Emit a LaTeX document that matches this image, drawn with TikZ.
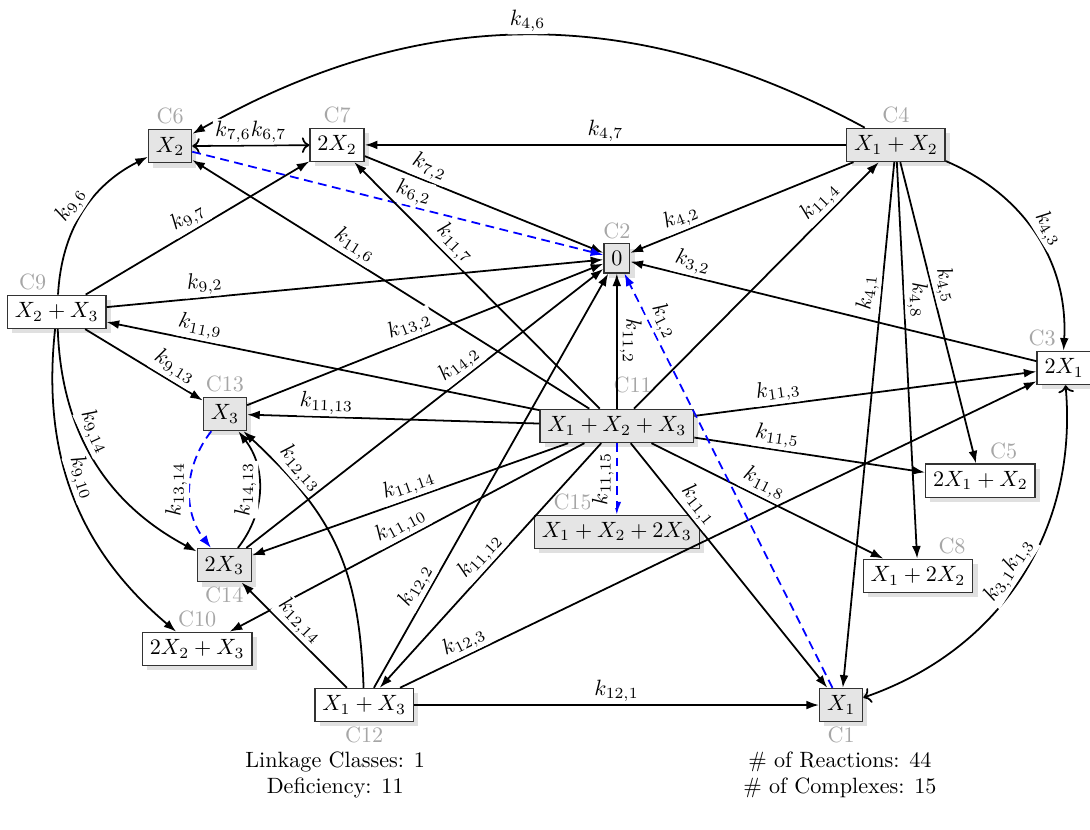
\documentclass[tikz,border=0pt]{standalone}
\usepackage{amsmath}
\usetikzlibrary{shadows,arrows.meta}

\begin{document}
\begin{tikzpicture}[
	cplx/.style={draw=black!80, semithick, fill=white, drop shadow={fill=black!12, opacity=1}},
	cplxg/.style={cplx, fill=black!10},
	clbl/.style={text=black!35},
	label distance=-1.5pt,
	rxn/.style={thick, -{Latex[length=2mm, width=1.4mm]}},
	dashrxn/.style={rxn, blue, dash pattern=on 4pt off 2.5pt},
	rrev/.style={thick, <->},
	lbl/.style={sloped, above, fill=white, inner sep=1pt, text=black}]
	\useasboundingbox (0,0) rectangle (17.30,-13.17);
	% complexes
	\node[cplxg, label={[clbl]above:C6}] (c6) at (2.70,-2.32) {$X_2$};
	\node[cplx, label={[clbl]above:C7}] (c7) at (5.35,-2.30) {$2X_2$};
	\node[cplxg, label={[clbl]above:C4}] (c4) at (14.22,-2.30) {$X_1+X_2$};
	\node[cplxg, label={[clbl]above:C2}] (c2) at (9.79,-4.10) {$0$};
	\node[cplx, label={[clbl, xshift=-0.38cm]above:C9}] (c9) at (0.90,-4.95) {$X_2+X_3$};
	\node[cplx, label={[clbl, xshift=-0.35cm]above:C3}] (c3) at (16.89,-5.84) {$2X_1$};
	\node[cplxg, label={[clbl]above:C13}] (c13) at (3.57,-6.57) {$X_3$};
	\node[cplxg, label={[clbl, xshift=0.25cm, yshift=0.18cm]above:C11}] (c11) at (9.79,-6.76) {$X_1+X_2+X_3$};
	\node[cplx, label={[clbl, xshift=0.37cm]above:C5}] (c5) at (15.56,-7.63) {$2X_1+X_2$};
	\node[cplxg, label={[clbl, xshift=-0.7cm]above:C15}] (c15) at (9.79,-8.44) {$X_1+X_2+2X_3$};
	\node[cplxg, label={[clbl]below:C14}] (c14) at (3.56,-8.97) {$2X_3$};
	\node[cplx, label={[clbl, xshift=0.54cm]above:C8}] (c8) at (14.57,-9.14) {$X_1+2X_2$};
	\node[cplx, label={[clbl]above:C10}] (c10) at (3.13,-10.30) {$2X_2+X_3$};
	\node[cplx, label={[clbl]below:C12}] (c12) at (5.78,-11.19) {$X_1+X_3$};
	\node[cplxg, label={[clbl]below:C1}] (c1) at (13.35,-11.19) {$X_1$};
	% reactions
	\draw[rxn] (c4) to[bend right=29] node[lbl]{$k_{4,6}$} (c6);
	\draw[rxn] (c4) -- node[lbl]{$k_{4,7}$} (c7);
	\draw[rxn] (c4) -- node[lbl, pos=.75]{$k_{4,2}$} (c2);
	\draw[rxn] (c4) to[bend left=35] node[lbl]{$k_{4,3}$} (c3);
	\draw[rxn] (c4) -- node[lbl, pos=.25]{$k_{4,1}$} (c1);
	\draw[rxn] (c4) -- node[lbl, pos=.35]{$k_{4,8}$} (c8);
	\draw[rxn] (c4) -- node[lbl, pos=.42]{$k_{4,5}$} (c5);
	\draw[rrev] (c6) -- node[lbl]{$k_{7,6}k_{6,7}$} (c7);
	\draw[rxn] (c7) -- node[lbl, pos=.25]{$k_{7,2}$} (c2);
	\draw[dashrxn] (c6) -- node[lbl, pos=.53]{$k_{6,2}$} (c2);
	\draw[rxn] (c9) to[bend left=30] node[lbl]{$k_{9,6}$} (c6);
	\draw[rxn] (c9) -- node[lbl, pos=.49]{$k_{9,7}$} (c7);
	\draw[rxn] (c9) -- node[lbl, pos=.2]{$k_{9,2}$} (c2);
	\draw[rxn] (c9) -- node[lbl, pos=.7]{$k_{9,13}$} (c13);
	\draw[rxn] (c9) to[bend right=30] node[lbl, pos=.4]{$k_{9,14}$} (c14);
	\draw[rxn] (c9) to[bend right=28] node[lbl, pos=.45]{$k_{9,10}$} (c10);
	\draw[rxn] (c11) -- node[lbl, pos=.61]{$k_{11,6}$} (c6);
	\draw[rxn] (c11) -- node[lbl, pos=.63]{$k_{11,7}$} (c7);
	\draw[rxn] (c11) -- node[lbl, pos=.8]{$k_{11,4}$} (c4);
	\draw[rxn] (c11) -- node[lbl, rotate=180]{$k_{11,2}$} (c2);
	\draw[rxn] (c11) -- node[lbl, pos=.79]{$k_{11,9}$} (c9);
	\draw[rxn] (c11) -- node[lbl, pos=.73]{$k_{11,13}$} (c13);
	\draw[rxn] (c11) -- node[lbl, pos=.25]{$k_{11,3}$} (c3);
	\draw[rxn] (c11) -- node[lbl, pos=.35]{$k_{11,5}$} (c5);
	\draw[rxn] (c11) -- node[lbl, pos=.46]{$k_{11,8}$} (c8);
	\draw[dashrxn] (c11) -- node[lbl, rotate=180]{$k_{11,15}$} (c15);
	\draw[rxn] (c11) -- node[lbl, pos=.49]{$k_{11,14}$} (c14);
	\draw[rxn] (c11) -- node[lbl]{$k_{11,10}$} (c10);
	\draw[rxn] (c11) -- node[lbl]{$k_{11,12}$} (c12);
	\draw[rxn] (c11) -- node[lbl, pos=.29]{$k_{11,1}$} (c1);
	\draw[rxn] (c12) -- node[lbl]{$k_{12,1}$} (c1);
	\draw[rxn] (c12) -- node[lbl, pos=.11]{$k_{12,3}$} (c3);
	\draw[rxn] (c12) -- node[lbl, pos=.23]{$k_{12,2}$} (c2);
	\draw[rxn] (c12) to[out=92, in=-43, looseness=1.1] node[lbl, pos=.8]{$k_{12,13}$} (c13);
	\draw[rxn] (c12) -- node[lbl, pos=.54]{$k_{12,14}$} (c14);
	\draw[rxn] (c13) -- node[lbl, pos=.47]{$k_{13,2}$} (c2);
	\draw[dashrxn] (c13) to[bend right=38] node[lbl]{$k_{13,14}$} (c14);
	\draw[rxn] (c14) to[bend right=38] node[lbl]{$k_{14,13}$} (c13);
	\draw[rxn] (c14) -- node[lbl, pos=.62]{$k_{14,2}$} (c2);
	\draw[rxn] (c3) -- node[lbl, pos=.855]{$k_{3,2}$} (c2);
	\draw[rrev] (c3) to[bend left=38] node[lbl]{$k_{3,1}k_{1,3}$} (c1);
	\draw[dashrxn] (c1) -- node[lbl, pos=.87]{$k_{1,2}$} (c2);
	% summary
	\node[align=center] (lc) at (5.32,-12.30) {Linkage Classes: 1\\Deficiency: 11};
	\node[align=center] (nr) at (13.33,-12.30) {\# of Reactions: 44\\\# of Complexes: 15};
\end{tikzpicture}
\end{document}
